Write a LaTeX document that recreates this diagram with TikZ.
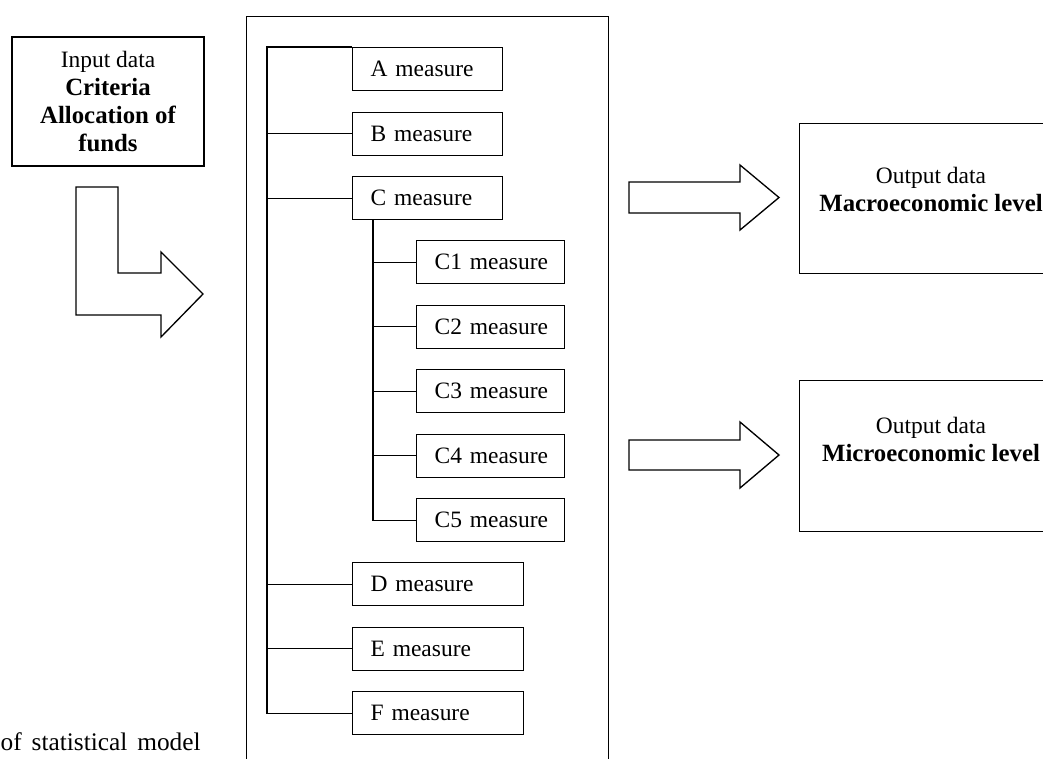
\documentclass[tikz,border=0pt]{standalone}
\usepackage{fontspec}
\setmainfont{Liberation Serif}
\newcommand{\heavy}[1]{{\fontsize{18.6}{21}\selectfont\bfseries #1}}
\begin{document}
\begin{tikzpicture}[
  x=0.75pt, y=-0.75pt,
  line width=1pt,
  font=\fontsize{17.6}{21}\selectfont,
  measure/.style={draw, anchor=north west, minimum height=32.25pt,
    inner ysep=0pt, inner xsep=0pt, text width=#1, align=left,
    execute at begin node={\hspace*{13.5pt}}},
  shortbox/.style={measure=112.5pt},
  longbox/.style={measure=128.25pt},
  subbox/.style={measure=111pt},
  outbox/.style={draw, anchor=north west, minimum width=198pt, inner sep=0pt},
  blockarrow/.style={draw, fill=white, line join=miter}
]
\useasboundingbox (0,0) rectangle (1043,758);
\clip (0,0) rectangle (1043,758);

% input data
\node[draw, minimum width=144pt, minimum height=96.75pt, inner sep=0pt, align=center]
  (input) at (108,101.5)
  {Input data\\\heavy{Criteria}\\\heavy{Allocation of}\\\heavy{funds}};

% bent arrow from the input to the measures
\draw[blockarrow] (76,187) -- (118,187) -- (118,273) -- (161,273) -- (161,252)
  -- (203,294) -- (161,337) -- (161,315) -- (76,315) -- cycle;

% frame holding the measures
\node[draw, anchor=north west, minimum width=271.5pt, minimum height=600pt, inner sep=0pt]
  (frame) at (246,16) {};

% measures
\node[shortbox] (A) at (352,47) {A measure};
\node[shortbox] (B) at (352,111.5) {B measure};
\node[shortbox] (C) at (352,176) {C measure};
\node[subbox] (C1) at (416,240) {C1 measure};
\node[subbox] (C2) at (416,304.5) {C2 measure};
\node[subbox] (C3) at (416,369) {C3 measure};
\node[subbox] (C4) at (416,433.5) {C4 measure};
\node[subbox] (C5) at (416,498) {C5 measure};
\node[longbox] (D) at (352,562) {D measure};
\node[longbox] (E) at (352,626.5) {E measure};
\node[longbox] (F) at (352,691) {F measure};

% tree lines
\coordinate (trunk) at (267,0);
\coordinate (cbranch) at (373,0);
\draw (A.north west) -- (A.north west -| trunk) -- (F.west -| trunk) -- (F.west);
\foreach \m in {B,C,D,E} \draw (\m.west -| trunk) -- (\m.west);
\draw (C.south -| cbranch) -- (C5.west -| cbranch) -- (C5.west);
\foreach \m in {C1,C2,C3,C4} \draw (\m.west -| cbranch) -- (\m.west);

% output boxes
\node[outbox, minimum height=112.5pt] (macro) at (799,123) {};
\node[align=center] (macrotxt) at (931,189)
  {Output data\\\heavy{Macroeconomic level}};
\node[outbox, minimum height=113.25pt] (micro) at (799,380) {};
\node[align=center] (microtxt) at (931,439)
  {Output data\\\heavy{Microeconomic level}};

% block arrows to the outputs
\draw[blockarrow] (629,182) -- (740,182) -- (740,165) -- (779,197.5) -- (740,230)
  -- (740,213) -- (629,213) -- cycle;
\draw[blockarrow] (629,440) -- (740,440) -- (740,422) -- (779,455) -- (740,488)
  -- (740,470) -- (629,470) -- cycle;

% caption fragment
\node[anchor=base west, inner sep=0pt, font=\fontsize{19}{22}\selectfont] (caption) at (0,750)
  {\makebox[150pt][s]{of statistical model}};
\end{tikzpicture}
\end{document}
